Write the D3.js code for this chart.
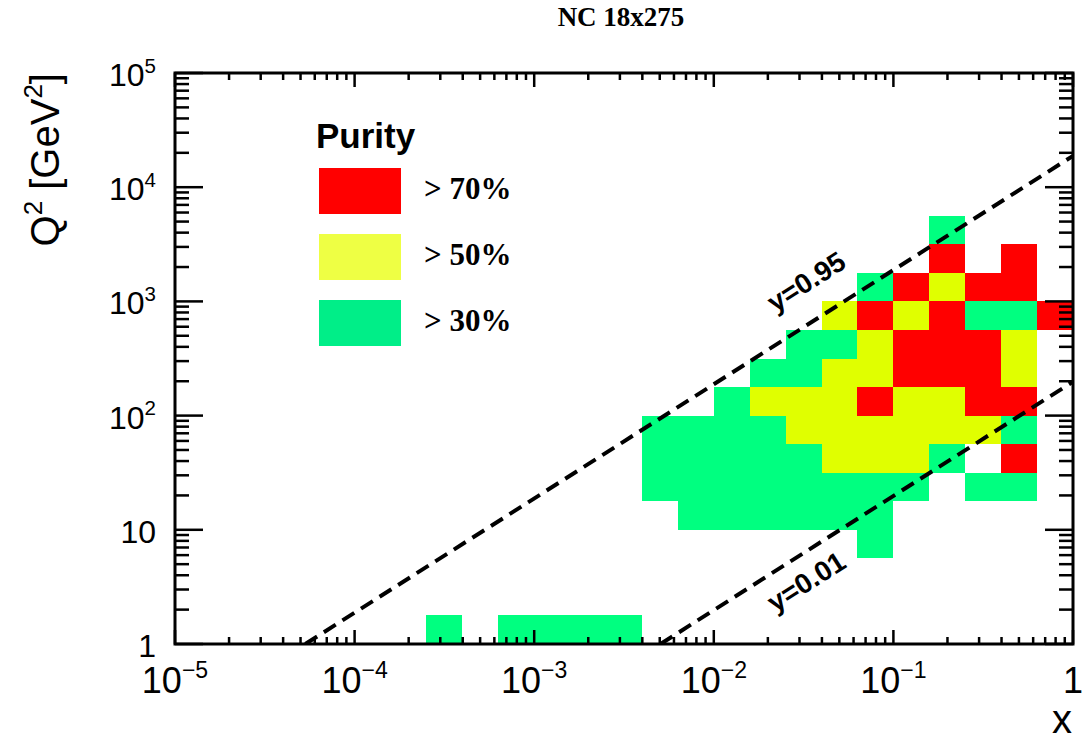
<!DOCTYPE html>
<html>
<head>
<meta charset="utf-8">
<script src="https://cdn.jsdelivr.net/npm/d3@7"></script>
<style>
body{margin:0;background:#fff;}
svg{display:block;}
</style>
</head>
<body>
<svg id="chart" width="1089" height="742"></svg>
<script>
// binning of the purity histogram (log bins)
var xRange = [1e-5, 1];
var q2Range = [1, 1e5];
var nBinsX = 25;
var nBinsQ2 = 20;

// purity class per bin, one string per Q2 bin, from Q2 bin 14 down to bin 0
// '.' empty, 'g' > 30%, 'y' > 50%, 'r' > 70%
var topQ2Bin = 14;
var purityRows = [
    ".....................g...",
    ".....................r.r.",
    "...................gryrr.",
    "..................yryrggr",
    ".................ggyrrry.",
    "................ggyyrrry.",
    "...............gyyyryyrr.",
    ".............ggggyyyyyyg.",
    ".............gggggyyyg.r.",
    ".............gggggggg.gg.",
    "..............gggggg.....",
    "...................g.....",
    ".........................",
    ".........................",
    ".......g.gggg............"
];

var legendKeys = ["r", "y", "g"];
var legendLabels = ["> 70%", "> 50%", "> 30%"];

// kinematic lines  Q2 = y * x * s
var beamE = [18, 275];
var inelasticity = [0.95, 0.01];
var lineLabels = ["y=0.95", "y=0.01"];

var xTickExps = [-5, -4, -3, -2, -1, 0];
var yTickExps = [0, 1, 2, 3, 4, 5];

var cellColor = {"r": "#ff0000", "y": "#e0ff00", "g": "#00ff80"};
var legendColor = {"r": "#ff0000", "y": "#eeff44", "g": "#00ee88"};

var L = 175, R = 1073, T = 73, B = 644;
var svg = d3.select("#chart");

var x = d3.scaleLog().domain(xRange).range([L, R]);
var y = d3.scaleLog().domain(q2Range).range([B, T]);

function xEdge(k){
    var a = Math.log10(xRange[0]), b = Math.log10(xRange[1]);
    return Math.pow(10, a + k*(b - a)/nBinsX);
}
function yEdge(k){
    var a = Math.log10(q2Range[0]), b = Math.log10(q2Range[1]);
    return Math.pow(10, a + k*(b - a)/nBinsQ2);
}

// cells
var cells = [];
purityRows.forEach(function(row, i){
    var q = topQ2Bin - i;
    for(var c = 0; c < row.length; c++){
        if(row[c] != ".") cells.push({c: c, q: q, k: row[c]});
    }
});

svg.append("g").selectAll("rect")
    .data(cells)
    .enter().append("rect")
    .attr("x", function(d){ return x(xEdge(d.c)); })
    .attr("y", function(d){ return y(yEdge(d.q + 1)); })
    .attr("width", function(d){ return x(xEdge(d.c + 1)) - x(xEdge(d.c)); })
    .attr("height", function(d){ return y(yEdge(d.q)) - y(yEdge(d.q + 1)); })
    .attr("fill", function(d){ return cellColor[d.k]; })
    .attr("shape-rendering", "crispEdges");

// dashed y lines
svg.append("clipPath").attr("id", "plotclip")
    .append("rect").attr("x", L).attr("y", T).attr("width", R - L).attr("height", B - T);

var s = 4*beamE[0]*beamE[1];
var line = d3.line().x(function(d){ return x(d[0]); }).y(function(d){ return y(d[1]); });
inelasticity.forEach(function(yy){
    var pts = [[q2Range[0]/(yy*s), q2Range[0]], [xRange[1], yy*s*xRange[1]]];
    svg.append("path")
        .attr("d", line(pts))
        .attr("clip-path", "url(#plotclip)")
        .attr("fill", "none")
        .attr("stroke", "black")
        .attr("stroke-width", 4)
        .attr("stroke-dasharray", "14,8");
});

var angle = Math.atan((y(1) - y(10))/(x(10) - x(1)))*180/Math.PI;
var labelPos = [[775, 313], [775, 613]];
lineLabels.forEach(function(t, i){
    svg.append("text")
        .text(t)
        .attr("transform", "translate(" + labelPos[i][0] + "," + labelPos[i][1] + ") rotate(" + (-angle) + ")")
        .attr("font-family", "Liberation Sans, Arial, sans-serif")
        .attr("font-weight", "bold")
        .attr("font-size", 28);
});

// ticks
var ticks = svg.append("g").attr("stroke", "black").attr("stroke-width", 2.5);
function isMajor(v){ return Math.abs(Math.log10(v) - Math.round(Math.log10(v))) < 1e-6; }

x.ticks().forEach(function(v){
    var len = isMajor(v) ? 14 : 7;
    var px = x(v);
    ticks.append("line").attr("x1", px).attr("x2", px).attr("y1", B).attr("y2", B - len);
    ticks.append("line").attr("x1", px).attr("x2", px).attr("y1", T).attr("y2", T + len);
});
y.ticks().forEach(function(v){
    var len = isMajor(v) ? 28 : 14;
    var py = y(v);
    ticks.append("line").attr("x1", L).attr("x2", L + len).attr("y1", py).attr("y2", py);
    ticks.append("line").attr("x1", R).attr("x2", R - len).attr("y1", py).attr("y2", py);
});

// frame
svg.append("rect")
    .attr("x", L).attr("y", T).attr("width", R - L).attr("height", B - T)
    .attr("fill", "none").attr("stroke", "black").attr("stroke-width", 3);

// tick labels
function powLabel(sel, e, size, yAxis){
    if(e == 0){ sel.text("1"); return; }
    if(e == 1 && yAxis){ sel.text("10"); return; }
    sel.append("tspan").text("10");
    sel.append("tspan")
        .attr("dy", -0.42*size)
        .attr("font-size", size*0.64)
        .text(e < 0 ? "\u2212" + (-e) : e);
}

xTickExps.forEach(function(e){
    var t = svg.append("text")
        .attr("x", x(Math.pow(10, e)))
        .attr("y", 693)
        .attr("text-anchor", "middle")
        .attr("font-family", "Liberation Sans, Arial, sans-serif")
        .attr("font-size", 36);
    powLabel(t, e, 36, false);
});
yTickExps.forEach(function(e){
    var t = svg.append("text")
        .attr("x", 156)
        .attr("y", y(Math.pow(10, e)) + 13)
        .attr("text-anchor", "end")
        .attr("font-family", "Liberation Sans, Arial, sans-serif")
        .attr("font-size", 32);
    powLabel(t, e, 32, true);
});

// axis titles
var yt = svg.append("text")
    .attr("transform", "translate(59," + T + ") rotate(-90)")
    .attr("text-anchor", "end")
    .attr("font-family", "Liberation Sans, Arial, sans-serif")
    .attr("font-size", 40);
yt.append("tspan").text("Q");
yt.append("tspan").attr("dy", -17).attr("font-size", 26).text("2");
yt.append("tspan").attr("dy", 17).text(" [GeV");
yt.append("tspan").attr("dy", -17).attr("font-size", 26).text("2");
yt.append("tspan").attr("dy", 17).text("]");

svg.append("text")
    .text("x")
    .attr("x", 1072).attr("y", 733)
    .attr("text-anchor", "end")
    .attr("font-family", "Liberation Sans, Arial, sans-serif")
    .attr("font-size", 40);

// title
svg.append("text")
    .text("NC 18x275")
    .attr("x", 621).attr("y", 26)
    .attr("text-anchor", "middle")
    .attr("font-family", "Liberation Serif, Times New Roman, serif")
    .attr("font-weight", "bold")
    .attr("font-size", 27);

// legend
svg.append("text")
    .text("Purity")
    .attr("x", 316).attr("y", 148)
    .attr("font-family", "Liberation Sans, Arial, sans-serif")
    .attr("font-weight", "bold")
    .attr("font-size", 35);

legendKeys.forEach(function(k, i){
    var by = 168 + i*66;
    svg.append("rect")
        .attr("x", 319).attr("y", by).attr("width", 82).attr("height", 46)
        .attr("fill", legendColor[k]);
    svg.append("text")
        .text(legendLabels[i])
        .attr("x", 424).attr("y", by + 31)
        .attr("font-family", "Liberation Serif, Times New Roman, serif")
        .attr("font-weight", "bold")
        .attr("font-size", 31);
});
</script>
</body>
</html>
